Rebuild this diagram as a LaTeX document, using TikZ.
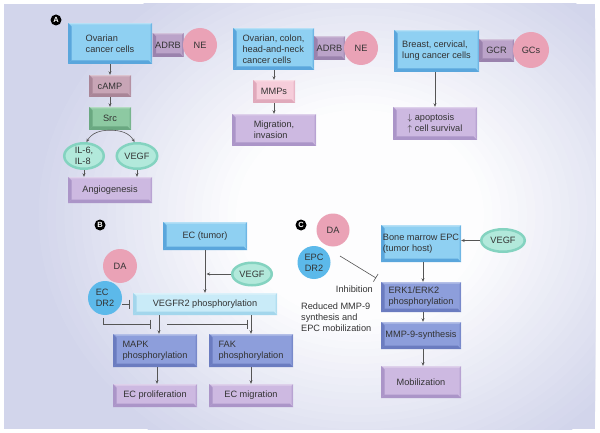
\documentclass[tikz,border=0pt]{standalone}
\usepackage{fontspec}
\setmainfont{Liberation Sans}
\usetikzlibrary{shapes.geometric,arrows.meta}
\definecolor{bgc}{HTML}{D2D5EB}
\definecolor{txt}{HTML}{333333}
\definecolor{lineC}{HTML}{555555}
\definecolor{cblue}{HTML}{8FD0F2}
\definecolor{cblueD}{HTML}{5AA6DC}
\definecolor{cmauve}{HTML}{BBA3C9}
\definecolor{cmauveD}{HTML}{9A82AD}
\definecolor{cpink}{HTML}{EAA2B6}
\definecolor{ccamp}{HTML}{C8A5B6}
\definecolor{ccampD}{HTML}{A98597}
\definecolor{cgreen}{HTML}{8DC9A2}
\definecolor{cgreenD}{HTML}{6AA881}
\definecolor{ctealL}{HTML}{B2E9DB}
\definecolor{ctealD}{HTML}{84D3C0}
\definecolor{clav}{HTML}{CDB9E1}
\definecolor{clavD}{HTML}{AB95C8}
\definecolor{cmmp}{HTML}{F6CDDA}
\definecolor{cmmpD}{HTML}{E0A9BB}
\definecolor{cvr}{HTML}{C9EBF8}
\definecolor{cvrD}{HTML}{A3D6EC}
\definecolor{cpur}{HTML}{8D9EDB}
\definecolor{cpurD}{HTML}{6B7CC0}
\definecolor{cdr}{HTML}{5CB9EA}
\newcommand\bvw{3.5pt}
\tikzset{
  bx/.style 2 args={rectangle, fill=#1, inner sep=0pt, align=left,
    path picture={
      \fill[#2] (path picture bounding box.south west) -- (path picture bounding box.north west)
        -- ([shift={(\bvw,-\bvw)}]path picture bounding box.north west)
        -- ([shift={(\bvw,\bvw)}]path picture bounding box.south west) -- cycle;
      \fill[#2] (path picture bounding box.south west)
        -- ([shift={(\bvw,\bvw)}]path picture bounding box.south west)
        -- ([shift={(-\bvw,\bvw)}]path picture bounding box.south east)
        -- (path picture bounding box.south east) -- cycle;
      \fill[#2,opacity=0.6] (path picture bounding box.south east) -- (path picture bounding box.north east)
        -- ([shift={(-1.5pt,-1.5pt)}]path picture bounding box.north east)
        -- ([shift={(-1.5pt,\bvw)}]path picture bounding box.south east) -- cycle;
      \fill[white,opacity=0.35] (path picture bounding box.north west) -- (path picture bounding box.north east)
        -- ([shift={(-1.5pt,-1.5pt)}]path picture bounding box.north east)
        -- ([shift={(\bvw,-1.5pt)}]path picture bounding box.north west) -- cycle;
    }},
  circ/.style={circle, fill=#1, inner sep=0pt, align=center},
  ell/.style={ellipse, fill=ctealL, draw=ctealD, line width=2.5pt, inner sep=0pt, align=left},
  lab/.style={circle, fill=black, text=white, inner sep=0pt, minimum size=11pt, font=\fontsize{7.5}{8}\selectfont\bfseries},
  arr/.style={-{Stealth[length=3.5pt,width=3pt]}, draw=lineC, line width=0.6pt},
  inh/.style={-{Bar[width=9pt]}, draw=lineC, line width=0.6pt},
  plain/.style={inner sep=0pt, align=left}
}
\begin{document}
\begin{tikzpicture}[x=1pt,y=-1pt, font=\fontsize{9.2}{11}\selectfont, text=txt]
\useasboundingbox (0,0) rectangle (600,433);
\fill[white] (0,0) rectangle (600,433);
\begin{scope}
\clip (4,4) rectangle (595,429);
\fill[bgc] (4,4) rectangle (595,429);
\foreach \i in {0,...,24}{
  \pgfmathsetmacro\s{1-0.026*\i}
  \pgfmathsetmacro\p{100-4*\i}
  \fill[bgc!\p!white] (360,215) ellipse ({330*\s} and {280*\s});
}
\end{scope}

% ---------- Panel A ----------
\node[lab] (labA) at (56,20) {A};
\node[bx={cblue}{cblueD}, minimum width=84pt, minimum height=41pt] (ov1) at (110,43.5) {Ovarian\\cancer cells};
\node[bx={cmauve}{cmauveD}, minimum width=31pt, minimum height=24pt] (adrb1) at (168,45) {ADRB};
\node[circ={cpink}, minimum size=34pt] (ne1) at (200,45) {NE};
\node[bx={ccamp}{ccampD}, minimum width=42pt, minimum height=22pt] (camp) at (110,86) {cAMP};
\node[bx={cgreen}{cgreenD}, minimum width=42pt, minimum height=23pt] (src) at (110,118.5) {Src};
\node[ell, minimum width=39.5pt, minimum height=25.5pt] (il) at (84,156) {IL-6,\\IL-8};
\node[ell, minimum width=40.5pt, minimum height=25.5pt] (vegf1) at (137,156) {VEGF};
\node[bx={clav}{clavD}, minimum width=84pt, minimum height=26pt] (angio) at (110,190) {Angiogenesis};

\draw[arr] (ov1.south) -- (camp.north);
\draw[arr] (camp.south) -- (src.north);
\draw[arr] (src.south) to[out=180,in=60] (il.80);
\draw[arr] (src.south) to[out=0,in=120] (vegf1.100);
\draw[arr] (il.south) -- (il.south |- angio.north);
\draw[arr] (vegf1.south) -- (vegf1.south |- angio.north);

\node[bx={cblue}{cblueD}, minimum width=81pt, minimum height=42pt] (ov2) at (273.5,49) {Ovarian, colon,\\head-and-neck\\cancer cells};
\node[bx={cmauve}{cmauveD}, minimum width=31pt, minimum height=24pt] (adrb2) at (329.5,48) {ADRB};
\node[circ={cpink}, minimum size=34pt] (ne2) at (361,48) {NE};
\node[bx={cmmp}{cmmpD}, minimum width=42pt, minimum height=23pt] (mmps) at (274,91.5) {MMPs};
\node[bx={clav}{clavD}, minimum width=84pt, minimum height=32pt] (mig) at (274,130) {Migration,\\invasion};
\draw[arr] (ov2.south -| mmps) -- (mmps.north);
\draw[arr] (mmps.south) -- (mig.north);

\node[bx={cblue}{cblueD}, minimum width=85pt, minimum height=42pt] (breast) at (436.5,51) {Breast, cervical,\\lung cancer cells};
\node[bx={cmauve}{cmauveD}, minimum width=35pt, minimum height=23pt] (gcr) at (496.5,50.5) {GCR};
\node[circ={cpink}, minimum size=36pt] (gcs) at (531,50) {GCs};
\node[bx={clav}{clavD}, minimum width=84pt, minimum height=33pt] (apop) at (435,123.5) {$\downarrow$ apoptosis\\$\uparrow$ cell survival};
\draw[arr] (breast.south -| apop) -- (apop.north);

% ---------- Panel B ----------
\node[lab] (labB) at (100,225) {B};
\node[bx={cblue}{cblueD}, minimum width=84pt, minimum height=28pt] (ectum) at (205,236) {EC (tumor)};
\node[circ={cpink}, minimum size=34pt] (da1) at (120,266) {DA};
\node[circ={cdr}, minimum size=34pt, align=left] (ecdr) at (105,298) {EC\\DR2};
\node[bx={cvr}{cvrD}, minimum width=144pt, minimum height=22pt] (vegfr2) at (205,304) {VEGFR2 phosphorylation};
\node[ell, minimum width=39.5pt, minimum height=22.5pt] (vegf2) at (252,274) {VEGF};
\node[bx={cpur}{cpurD}, minimum width=84pt, minimum height=33pt] (mapk) at (155,350.5) {MAPK\\phosphorylation};
\node[bx={cpur}{cpurD}, minimum width=84pt, minimum height=33pt] (fak) at (251,350.5) {FAK\\phosphorylation};
\node[bx={clav}{clavD}, minimum width=84pt, minimum height=23pt] (ecprol) at (155,395.5) {EC proliferation};
\node[bx={clav}{clavD}, minimum width=84pt, minimum height=23pt] (ecmig) at (251,395.5) {EC migration};

\draw[arr] (ectum.south) -- (vegfr2.north);
\draw[arr] (vegf2.west) -- ([xshift=1.5pt]vegf2.west -| ectum.south);
\draw[inh] (ecdr.east |- vegfr2.west) -- ([xshift=-3pt]vegfr2.west);
\coordinate (i1s) at (103,318);
\coordinate (i1e) at (151,324);
\coordinate (i2s) at (167,324);
\coordinate (i2e) at (248,324);
\draw[inh] (i1s) |- (i1e);
\draw[inh] (i2s) -- (i2e);
\draw[arr] ([xshift=4pt]vegfr2.south -| mapk.north) -- ([xshift=4pt]mapk.north);
\draw[arr] (vegfr2.south -| fak.north) -- (fak.north);
\draw[arr] ([xshift=2pt]mapk.south) -- ([xshift=2pt]ecprol.north);
\draw[arr] (fak.south) -- (ecmig.north);

% ---------- Panel C ----------
\node[lab] (labC) at (301,225) {C};
\node[circ={cpink}, minimum size=33pt] (da2) at (333,230) {DA};
\node[circ={cdr}, minimum size=33pt] (epcdr) at (314,262.5) {EPC\\DR2};
\node[bx={cblue}{cblueD}, minimum width=80pt, minimum height=37pt] (bme) at (421,243.5) {Bone marrow EPC\\(tumor host)};
\node[ell, minimum width=43.5pt, minimum height=22.5pt] (vegf3) at (503,240.5) {VEGF};
\node[bx={cpur}{cpurD}, minimum width=80pt, minimum height=30pt] (erk) at (421,297) {ERK1/ERK2\\phosphorylation};
\node[bx={cpur}{cpurD}, minimum width=80pt, minimum height=27pt] (mmp9) at (421,335.5) {MMP-9-synthesis};
\node[bx={clav}{clavD}, minimum width=80pt, minimum height=32pt] (mob) at (421,382) {Mobilization};
\draw[arr] (vegf3.west) -- (bme.east |- vegf3.west);
\draw[arr] ([xshift=2pt]bme.south) -- ([xshift=2pt]erk.north);
\draw[arr] ([xshift=2pt]erk.south) -- ([xshift=2pt]mmp9.north);
\draw[arr] ([xshift=2pt]mmp9.south) -- ([xshift=2pt]mob.north);
\coordinate (c1s) at (340,256);
\coordinate (c1e) at (376,278);
\draw[inh] (c1s) -- (c1e);
\node[plain, anchor=east] (inhtxt) at (373,289) {Inhibition};
\node[plain, anchor=north west] (redtxt) at (301,303) {Reduced MMP-9\\synthesis and\\EPC mobilization};
\end{tikzpicture}
\end{document}
